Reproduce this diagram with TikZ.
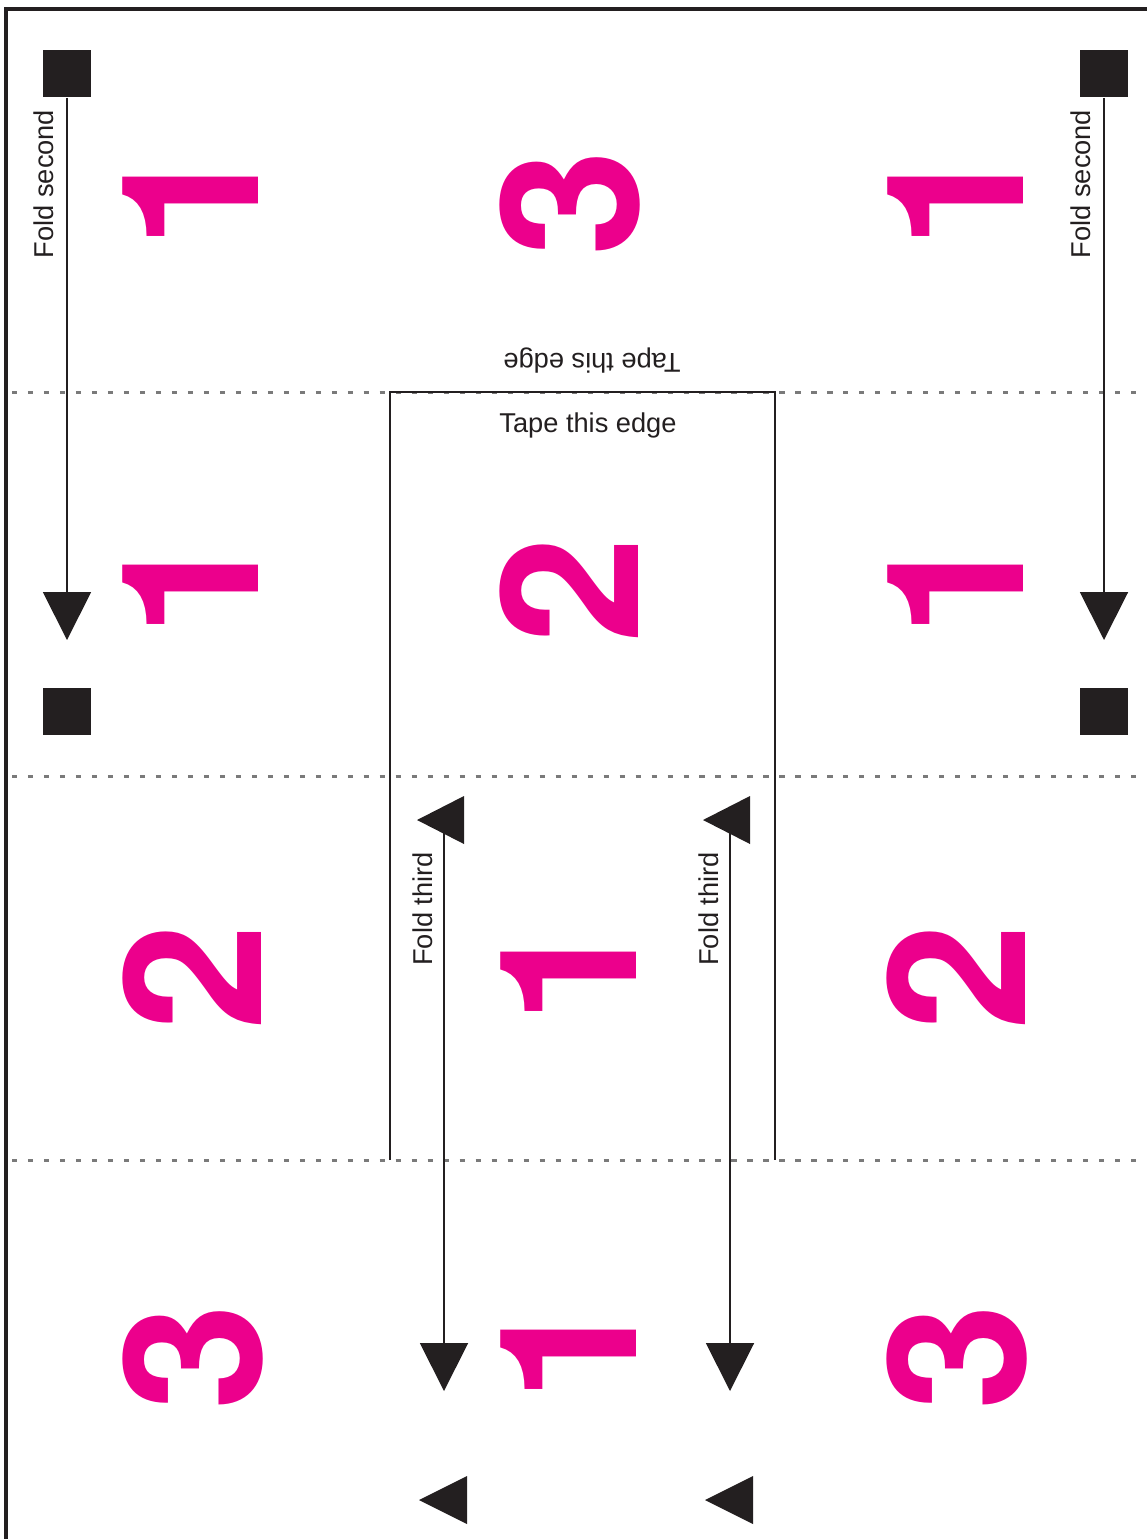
\documentclass[tikz,border=0pt]{standalone}
\usepackage{fontspec}
\setmainfont{Liberation Sans}
\newfontfamily\numfont{TeX Gyre Heros}
\usepackage{xcolor}
\usetikzlibrary{arrows.meta,positioning,calc}
\definecolor{inkblack}{HTML}{231F20}
\definecolor{procmag}{HTML}{EC008C}
\definecolor{foldgray}{HTML}{7A7A7A}

\begin{document}
\begin{tikzpicture}[x=0.02cm, y=-0.02cm,
  num/.style={text=procmag, font=\numfont\bfseries\fontsize{109}{109}\selectfont,
    rotate=90, inner sep=0pt},
  lbl/.style={text=inkblack, font=\fontsize{15.5}{16}\selectfont, inner sep=0pt},
  sqmark/.style={fill=inkblack, minimum size=27.2pt, inner sep=0pt},
  foldline/.style={draw=foldgray, line width=1.7pt, dash pattern=on 2.9pt off 6.2pt},
  edge/.style={draw=inkblack, line width=1.8pt},
  tapebox/.style={draw=inkblack, line width=1.3pt},
  foldarr/.style={draw=inkblack, line width=1.1pt,
    -{Triangle[length=27.2pt, width=27.2pt]}},
]
\useasboundingbox (0,0) rectangle (1147,1539);

% sheet edge and fold lines
\draw[edge] (6,1539) -- (6,9) -- (1147,9);
\foreach \y in {392,776,1160}
  \draw[foldline] (12,\y) -- (1147,\y);
\draw[tapebox] (390,1160) -- (390,392) -- (775,392) -- (775,1160);

% panel numbers
\foreach \x/\y/\d [count=\i] in {191/196/1, 570/203/3, 956/196/1,
    191/584/1, 569/590/2, 956/584/1,
    192/977/2, 569/971/1, 956/977/2,
    193/1357/3, 569/1349/1, 957/1357/3}
  \node[num] (p\i) at (\x,\y) {\d};

% tape labels
\node[lbl] (tape) at (588,425) {Tape this edge};
\node[lbl, rotate=180] (tapeflip) at (592,361) {Tape this edge};

% fold second
\foreach \x/\s in {67/l, 1104/r} {
  \node[sqmark] (sq\s) at (\x,73.5) {};
  \node[sqmark] (sqlow\s) at (\x,711.5) {};
  \coordinate (tip\s) at (\x,640);
  \draw[foldarr] (sq\s.south) -- (tip\s);
}
\node[lbl, rotate=90] (fsl) at (44,184) {Fold second};
\node[lbl, rotate=90] (fsr) at (1081,184) {Fold second};

% fold third
\foreach \x/\s in {444/a, 730/b} {
  \coordinate (top\s) at (\x,822);
  \coordinate (end\s) at (\x,1391);
  \fill[inkblack] ($(top\s)+(-27,-2)$) -- ++(47,-24) -- ++(0,48) -- cycle;
  \draw[foldarr] (top\s) -- (end\s);
  \fill[inkblack] (\x-25,1500) -- ++(48,-24) -- ++(0,48) -- cycle;
}
\node[lbl, rotate=90] (ftl) at (423,909) {Fold third};
\node[lbl, rotate=90] (ftr) at (709,909) {Fold third};
\end{tikzpicture}
\end{document}
